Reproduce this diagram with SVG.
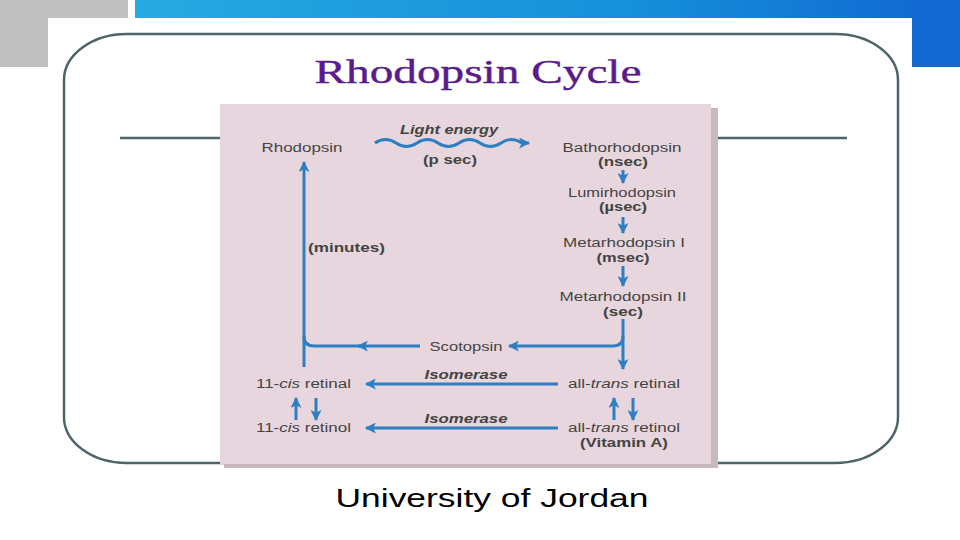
<svg xmlns="http://www.w3.org/2000/svg" width="960" height="540" viewBox="0 0 960 540">
<defs>
<linearGradient id="band" x1="0" y1="0" x2="1" y2="0">
<stop offset="0" stop-color="#27a9e1"/>
<stop offset="0.6" stop-color="#1590da"/>
<stop offset="1" stop-color="#1166d2"/>
</linearGradient>
<marker id="ah" viewBox="0 0 10 10" refX="9" refY="5" markerWidth="12" markerHeight="11" markerUnits="userSpaceOnUse" orient="auto">
<path d="M0,0 L10,5 L0,10 L2.5,5 Z" fill="#2e7fc2"/>
</marker>
<style>
.t{font-family:"Liberation Sans",Arial,sans-serif;font-size:12.5px;fill:#444444}
.b{font-weight:bold}
.i{font-style:italic}
.c{stroke:#2e7fc2;stroke-width:3;fill:none}
.a{marker-end:url(#ah)}
.frame{stroke:#4e6468;stroke-width:2.5;fill:none}
</style>
</defs>
<rect width="960" height="540" fill="#ffffff"/>
<rect x="0" y="0" width="128" height="67" fill="#c0c0c0"/>
<rect x="135" y="0" width="825" height="18" fill="url(#band)"/>
<rect x="912" y="0" width="48" height="67" fill="#1269d3"/>
<rect x="48" y="18" width="864" height="522" fill="#ffffff"/>
<g id="frame">
<path class="frame" d="M127,34 H835 A63,46 0 0 1 898,80 V417 A63,46 0 0 1 835,463 H127 A63,46 0 0 1 64,417 V80 A63,46 0 0 1 127,34 Z"/>
<line x1="120" y1="138" x2="847" y2="138" stroke="#4e6468" stroke-width="2.5"/>
</g>
<text x="478" y="83" font-family="Liberation Serif,Times New Roman,serif" font-size="34" fill="#5a1b8c" stroke="#5a1b8c" stroke-width="0.4" text-anchor="middle" textLength="327" lengthAdjust="spacingAndGlyphs">Rhodopsin Cycle</text>
<g id="panel">
<rect x="224" y="108" width="494" height="360" fill="#c9b9bf"/>
<rect x="220" y="104" width="491" height="360" fill="#e7d6dd"/>
</g>
<g id="connectors">
<path class="c a" d="M375,143 q10.5,-7 21,0 t21,0 t21,0 t21,0 t21,0 t21,0 t21,0 H529"/>
<path class="c a" d="M623,170 V183"/>
<path class="c a" d="M623,217 V233"/>
<path class="c a" d="M623,266 V286"/>
<path class="c a" d="M623,319 V369"/>
<path class="c a" d="M623,336 Q623,346 613,346 H509"/>
<path class="c a" d="M420,346 H358"/>
<path class="c" d="M362,346 H314 Q304,346 304,336"/>
<path class="c a" d="M304,367 V162"/>
<path class="c a" d="M558,384 H366"/>
<path class="c a" d="M558,428 H366"/>
<path class="c a" d="M296,420 V398"/>
<path class="c a" d="M316,398 V420"/>
<path class="c a" d="M614,420 V398"/>
<path class="c a" d="M633,398 V420"/>
</g>
<g id="rhodopsin"><text class="t" x="302" y="152" text-anchor="middle" textLength="81" lengthAdjust="spacingAndGlyphs">Rhodopsin</text></g>
<g id="light"><text class="t b i" x="449" y="134" text-anchor="middle" textLength="98" lengthAdjust="spacingAndGlyphs">Light energy</text>
<text class="t b" x="450" y="164" text-anchor="middle" textLength="54" lengthAdjust="spacingAndGlyphs">(p sec)</text></g>
<g id="batho"><text class="t" x="622" y="152" text-anchor="middle" textLength="119" lengthAdjust="spacingAndGlyphs">Bathorhodopsin</text>
<text class="t b" x="623" y="166" text-anchor="middle" textLength="50" lengthAdjust="spacingAndGlyphs">(nsec)</text></g>
<g id="lumi"><text class="t" x="622" y="197" text-anchor="middle" textLength="108" lengthAdjust="spacingAndGlyphs">Lumirhodopsin</text>
<text class="t b" x="623" y="211" text-anchor="middle" textLength="48" lengthAdjust="spacingAndGlyphs">(µsec)</text></g>
<g id="meta1"><text class="t" x="624" y="247" text-anchor="middle" textLength="122" lengthAdjust="spacingAndGlyphs">Metarhodopsin I</text>
<text class="t b" x="623" y="262" text-anchor="middle" textLength="53" lengthAdjust="spacingAndGlyphs">(msec)</text></g>
<g id="meta2"><text class="t" x="623" y="301" text-anchor="middle" textLength="127" lengthAdjust="spacingAndGlyphs">Metarhodopsin II</text>
<text class="t b" x="623" y="316" text-anchor="middle" textLength="40" lengthAdjust="spacingAndGlyphs">(sec)</text></g>
<g id="minutes"><text class="t b" x="308" y="252" textLength="77" lengthAdjust="spacingAndGlyphs">(minutes)</text></g>
<g id="scotopsin"><text class="t" x="466" y="351" text-anchor="middle" textLength="73" lengthAdjust="spacingAndGlyphs">Scotopsin</text></g>
<g id="cisretinal"><text class="t" x="256" y="388" textLength="95" lengthAdjust="spacingAndGlyphs">11-<tspan class="i">cis</tspan> retinal</text></g>
<g id="iso1"><text class="t b i" x="466" y="379" text-anchor="middle" textLength="83" lengthAdjust="spacingAndGlyphs">Isomerase</text></g>
<g id="transretinal"><text class="t" x="568" y="388" textLength="112" lengthAdjust="spacingAndGlyphs">all-<tspan class="i">trans</tspan> retinal</text></g>
<g id="cisretinol"><text class="t" x="256" y="432" textLength="95" lengthAdjust="spacingAndGlyphs">11-<tspan class="i">cis</tspan> retinol</text></g>
<g id="iso2"><text class="t b i" x="466" y="423" text-anchor="middle" textLength="83" lengthAdjust="spacingAndGlyphs">Isomerase</text></g>
<g id="transretinol"><text class="t" x="568" y="432" textLength="112" lengthAdjust="spacingAndGlyphs">all-<tspan class="i">trans</tspan> retinol</text>
<text class="t b" x="624" y="447" text-anchor="middle" textLength="88" lengthAdjust="spacingAndGlyphs">(Vitamin A)</text></g>
<text x="492" y="507" font-family="Liberation Sans,Arial,sans-serif" font-size="26" fill="#000000" text-anchor="middle" textLength="313" lengthAdjust="spacingAndGlyphs">University of Jordan</text>
</svg>
